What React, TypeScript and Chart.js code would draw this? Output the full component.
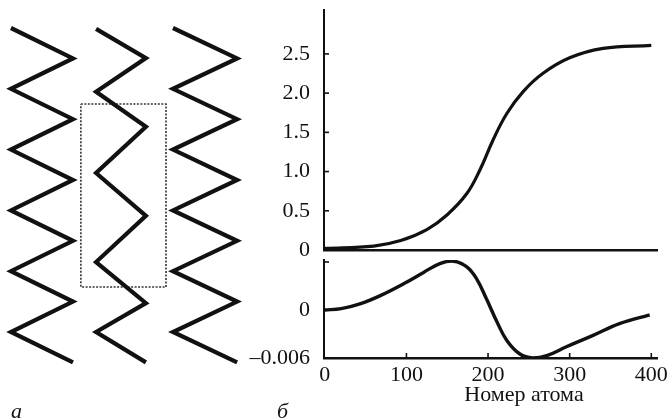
import React, { useEffect, useRef } from 'react';
import { Chart, registerables } from 'chart.js';

Chart.register(...registerables);

// ---------- Panel а : schematic chains (units: half-period of the zigzag) ----------
const chainLeftX = [0.36, 3.16, 5.69];
const chainRightX = [2.4, 4.8, 7.8];
const chain1Y = [0, 1, 2, 3, 4, 5, 6, 7, 8, 9, 10, 11];
const chain2Y = [0.03, 0.99, 2.1, 3.25, 4.77, 6.18, 7.7, 9.05, 10.0, 11.0];
const chain3Y = [0, 1, 2, 3, 4, 5, 6, 7, 8, 9, 10, 11];
const boxX = [2.66, 5.46];
const boxY = [2.5, 8.52];

// ---------- Panel б : top curve ----------
const topAtoms = [0, 60, 93, 125, 150, 174, 190, 206, 223, 243, 267, 300, 341, 400];
const topValues = [0.02, 0.05, 0.12, 0.26, 0.45, 0.72, 1.02, 1.4, 1.74, 2.02, 2.25, 2.45, 2.57, 2.61];
const topTicks = [0, 0.5, 1.0, 1.5, 2.0, 2.5];

// ---------- Panel б : bottom curve ----------
const bottomAtoms = [0, 20, 44, 68, 97, 121, 141, 158, 174, 186, 198, 211, 223, 239, 255, 272, 296, 328, 361, 398];
const bottomValues = [0, 0.00017, 0.0008, 0.0018, 0.0033, 0.0047, 0.0058, 0.0061, 0.0054, 0.0039, 0.0014, -0.0015, -0.0038, -0.0055, -0.006, -0.0057, -0.0046, -0.0032, -0.0017, -0.0006];
const bottomTicks = [-0.006, 0];
const bottomTickMarks = [-0.006, 0, 0.006];
const xTicks = [0, 100, 200, 300, 400];

const FONT = "'Liberation Serif', 'DejaVu Serif', serif";

const inwardTicks = {
  id: 'inwardTicks',
  afterDatasetsDraw(chart: any, _args: any, opts: any) {
    const ctx = chart.ctx;
    const xs = chart.scales.x;
    const ys = chart.scales.y;
    const len = opts.len || 5;
    ctx.save();
    ctx.strokeStyle = '#111';
    ctx.lineWidth = 1.6;
    (opts.yTicks || []).forEach((v: number) => {
      const py = ys.getPixelForValue(v);
      ctx.beginPath();
      ctx.moveTo(ys.right, py);
      ctx.lineTo(ys.right + len, py);
      ctx.stroke();
    });
    (opts.xTicks || []).forEach((v: number) => {
      const px = xs.getPixelForValue(v);
      ctx.beginPath();
      ctx.moveTo(px, xs.top);
      ctx.lineTo(px, xs.top - len);
      ctx.stroke();
    });
    ctx.restore();
  },
};

function chainPoints(y: number[], i: number) {
  return y.map((v, k) => ({ x: k % 2 === 0 ? chainLeftX[i] : chainRightX[i], y: v }));
}

export default function App() {
  const leftRef = useRef<HTMLCanvasElement>(null);
  const topRef = useRef<HTMLCanvasElement>(null);
  const botRef = useRef<HTMLCanvasElement>(null);

  useEffect(() => {
    const charts: Chart[] = [];
    const chainStyle = {
      borderColor: '#111',
      borderWidth: 4.2,
      pointRadius: 0,
      showLine: true,
      tension: 0,
      borderJoinStyle: 'miter' as const,
      borderCapStyle: 'butt' as const,
    };
    charts.push(
      new Chart(leftRef.current!, {
        type: 'scatter',
        data: {
          datasets: [
            { ...chainStyle, data: chainPoints(chain1Y, 0) },
            { ...chainStyle, data: chainPoints(chain2Y, 1) },
            { ...chainStyle, data: chainPoints(chain3Y, 2) },
            {
              borderColor: '#333',
              borderWidth: 1.6,
              borderDash: [2, 1.5],
              pointRadius: 0,
              showLine: true,
              tension: 0,
              data: [
                { x: boxX[0], y: boxY[0] },
                { x: boxX[1], y: boxY[0] },
                { x: boxX[1], y: boxY[1] },
                { x: boxX[0], y: boxY[1] },
                { x: boxX[0], y: boxY[0] },
              ],
            } as any,
          ],
        },
        options: {
          animation: false,
          responsive: false,
          devicePixelRatio: 1,
          layout: { padding: 0 },
          plugins: { legend: { display: false }, tooltip: { enabled: false } },
          scales: {
            x: { type: 'linear', min: 0, max: 260 / 30.4, display: false },
            y: { type: 'linear', min: -28 / 30.4, max: (419 - 28) / 30.4, reverse: true, display: false },
          },
        },
      })
    );

    charts.push(
      new Chart(topRef.current!, {
        type: 'line',
        data: {
          datasets: [
            {
              data: topAtoms.map((a, i) => ({ x: a, y: topValues[i] })),
              borderColor: '#111',
              borderWidth: 3.2,
              pointRadius: 0,
              tension: 0.4,
            },
          ],
        },
        options: {
          animation: false,
          responsive: false,
          devicePixelRatio: 1,
          layout: { padding: { top: 20, right: 15, bottom: 0, left: 0 } },
          plugins: {
            legend: { display: false },
            tooltip: { enabled: false },
            inwardTicks: { yTicks: topTicks, len: 5 },
          } as any,
          scales: {
            x: {
              type: 'linear',
              min: -1,
              max: 407,
              grid: { display: false },
              ticks: { display: false },
              border: { display: true, color: '#111', width: 2.6 },
              afterFit: (s: any) => { s.height = 20; },
            },
            y: {
              type: 'linear',
              min: 0,
              max: 3.06,
              grid: { display: false },
              border: { display: true, color: '#111', width: 2 },
              afterBuildTicks: (s: any) => { s.ticks = topTicks.map((v) => ({ value: v })); },
              ticks: {
                color: '#111',
                padding: 6,
                font: { family: FONT, size: 22 },
                callback: (v: any) => (Number(v) === 0 ? '0' : Number(v).toFixed(1)),
              },
              afterFit: (s: any) => { s.width = 84; },
            },
          },
        },
        plugins: [inwardTicks],
      })
    );

    charts.push(
      new Chart(botRef.current!, {
        type: 'line',
        data: {
          datasets: [
            {
              data: bottomAtoms.map((a, i) => ({ x: a, y: bottomValues[i] })),
              borderColor: '#111',
              borderWidth: 3.4,
              pointRadius: 0,
              tension: 0.4,
            },
          ],
        },
        options: {
          animation: false,
          responsive: false,
          devicePixelRatio: 1,
          layout: { padding: { top: 20, right: 15, bottom: 0, left: 0 } },
          plugins: {
            legend: { display: false },
            tooltip: { enabled: false },
            inwardTicks: { yTicks: bottomTickMarks, xTicks: xTicks.slice(1), len: 5 },
          } as any,
          scales: {
            x: {
              type: 'linear',
              min: -1,
              max: 407,
              grid: { display: false },
              border: { display: true, color: '#111', width: 2.6 },
              afterBuildTicks: (s: any) => { s.ticks = xTicks.map((v) => ({ value: v })); },
              ticks: {
                color: '#111',
                padding: -4,
                maxRotation: 0,
                autoSkip: false,
                font: { family: FONT, size: 22 },
                callback: (v: any) => String(v),
              },
              afterFit: (s: any) => { s.height = 60; },
            },
            y: {
              type: 'linear',
              min: -0.006,
              max: 0.00625,
              grid: { display: false },
              border: { display: true, color: '#111', width: 2 },
              afterBuildTicks: (s: any) => { s.ticks = bottomTicks.map((v) => ({ value: v })); },
              ticks: {
                color: '#111',
                padding: 6,
                font: { family: FONT, size: 22 },
                callback: (v: any) => (Number(v) === 0 ? '0' : '\u2013' + Math.abs(Number(v)).toFixed(3)),
              },
              afterFit: (s: any) => { s.width = 84; },
            },
          },
        },
        plugins: [inwardTicks],
      })
    );

    return () => charts.forEach((c) => c.destroy());
  }, []);

  const abs = (l: number, t: number): React.CSSProperties => ({ position: 'absolute', left: l, top: t });

  return (
    <div style={{ position: 'absolute', left: 0, top: 0, width: 672, height: 419, background: '#fff', overflow: 'hidden' }}>
      <canvas ref={leftRef} width={260} height={419} style={abs(0, 0)} />
      <canvas ref={topRef} width={432} height={280} style={abs(240, -10)} />
      <canvas ref={botRef} width={432} height={178} style={abs(240, 240)} />
      <div style={{ ...abs(11, 400), fontFamily: FONT, fontStyle: 'italic', fontSize: 22, lineHeight: '22px', color: '#111' }}>а</div>
      <div style={{ ...abs(277, 400), fontFamily: FONT, fontStyle: 'italic', fontSize: 22, lineHeight: '22px', color: '#111' }}>б</div>
      <div style={{ position: 'absolute', left: 524, top: 383, transform: 'translateX(-50%)', whiteSpace: 'nowrap', fontFamily: FONT, fontSize: 22, lineHeight: '22px', color: '#111' }}>Номер атома</div>
    </div>
  );
}
